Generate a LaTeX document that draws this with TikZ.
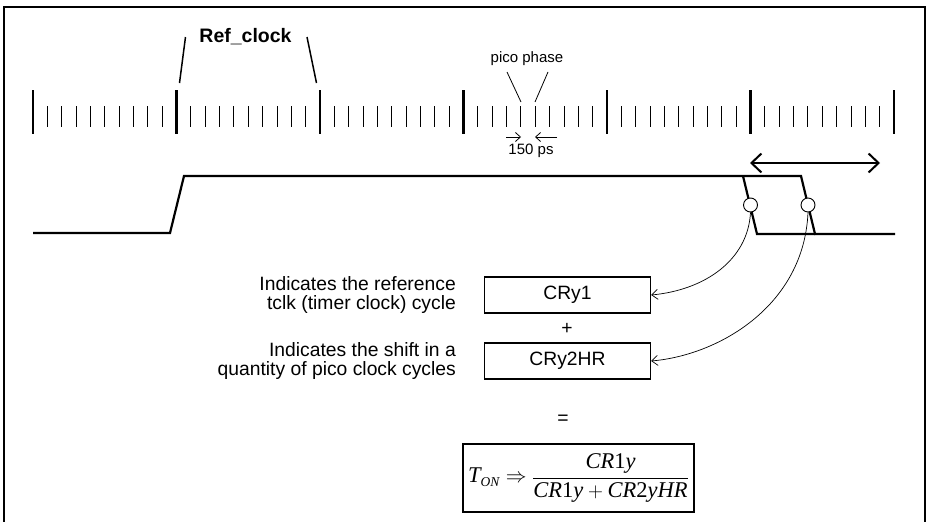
\documentclass[tikz,border=0pt]{standalone}
\usepackage{fontspec}
\setmainfont{Liberation Sans}
\newfontfamily\tms{Liberation Serif}
\usetikzlibrary{arrows.meta}
\newcommand\fmI[1]{\mbox{\tms\itshape #1}}
\newcommand\fmU[1]{\mbox{\tms #1}}
\begin{document}
\begin{tikzpicture}[x=1pt,y=-1pt,
  frame/.style={line width=1.4pt},
  majortick/.style={line width=2.3pt},
  minortick/.style={line width=0.9pt},
  leader/.style={line width=1.5pt},
  thinleader/.style={line width=0.8pt},
  wave/.style={line width=2.2pt, line join=miter},
  lbl/.style={font=\fontsize{19.3}{19.5}\selectfont, inner sep=0pt},
  small/.style={font=\fontsize{15}{17}\selectfont, inner sep=0pt},
  valbox/.style={draw, line width=1.4pt, minimum width=166pt, minimum height=36pt, inner sep=0pt, font=\fontsize{19.3}{20}\selectfont},
  ring/.style={circle, draw, fill=white, minimum size=14pt, inner sep=0pt, line width=0.9pt},
  curv/.style={line width=0.7pt, -{Straight Barb[length=6pt,width=10pt]}},
  smallarr/.style={line width=0.8pt, -{Straight Barb[length=5pt,width=9pt]}},
  bigarr/.style={line width=2pt, {Straight Barb[length=10pt,width=19pt]}-{Straight Barb[length=10pt,width=19pt]}}
]
\useasboundingbox (0,0) rectangle (927,522);
% frame
\draw[frame] (4,523) -- (4,7) -- (925,7) -- (925,523);
% ticks
\foreach \i in {0,...,5} {
  \pgfmathsetmacro\xa{33+143.5*\i}
  \draw[majortick] (\xa,90) -- (\xa,134);
  \foreach \j in {1,...,9} {
    \draw[minortick] ({\xa+14.35*\j},106) -- ({\xa+14.35*\j},127);
  }
}
\draw[majortick] (894,90) -- (894,134);
% Ref_clock
\node[font=\bfseries\fontsize{19.5}{20}\selectfont, inner sep=0pt] (ref) at (245.5,37) {Ref\_clock};
\coordinate (rlt) at (185.5,37);
\coordinate (rlb) at (179.5,83);
\coordinate (rrt) at (307,37);
\coordinate (rrb) at (316.5,83);
\draw[leader] (rlt) -- (rlb);
\draw[leader] (rrt) -- (rrb);
% pico phase
\node[small] (pico) at (527,59) {pico phase};
\coordinate (plt) at (507,72);
\coordinate (plb) at (521,102);
\coordinate (prt) at (548,72);
\coordinate (prb) at (535,102);
\draw[thinleader] (plt) -- (plb);
\draw[thinleader] (prt) -- (prb);
\coordinate (a1s) at (506,137);
\coordinate (a1e) at (521,137);
\coordinate (a2s) at (557,137);
\coordinate (a2e) at (535,137);
\draw[smallarr] (a1s) -- (a1e);
\draw[smallarr] (a2s) -- (a2e);
\node[small] (ps) at (531,151) {150 ps};
% waveform
\draw[wave] (33,233) -- (170,233) -- (184,176) -- (801,176) -- (815,234) -- (895,234);
\draw[wave] (743,176) -- (757,234) -- (815,234);
\coordinate (da1) at (750,163);
\coordinate (da2) at (880,163);
\draw[bigarr] (da1) -- (da2);
\node[ring] (c1) at (750.5,205) {};
\node[ring] (c2) at (808,205) {};
% boxes
\node[valbox] (b1) at (567.5,295) {CRy1};
\node[valbox] (b2) at (567.5,361) {CRy2HR};
\node[lbl, align=right, anchor=east] (t1) at (456,295) {Indicates the reference\\tclk (timer clock) cycle};
\node[lbl, align=right, anchor=east] (t2) at (456,361) {Indicates the shift in a\\quantity of pico clock cycles};
\node[lbl] (plus) at (567,329) {+};
\node[lbl] (eq) at (563,420) {=};
\draw[curv] (c1.south) .. controls (748,260) and (705,290) .. (b1.east);
\draw[curv] (c2.south) .. controls (804,305) and (720,355) .. (b2.east);
% formula
\node[draw, line width=1.4pt, inner xsep=1pt, inner ysep=1pt, minimum width=231pt, minimum height=68pt] (form) at (578.5,478)
 {\fontsize{22.5}{26}\selectfont $\displaystyle \fmI{T}_{\mbox{\tms\itshape\fontsize{13.5}{14}\selectfont ON}}\Rightarrow\frac{\fmI{CR}\fmU{1}\fmI{y}}{\fmI{CR}\fmU{1}\fmI{y}+\fmI{CR}\fmU{2}\fmI{yHR}}$};
\end{tikzpicture}
\end{document}
